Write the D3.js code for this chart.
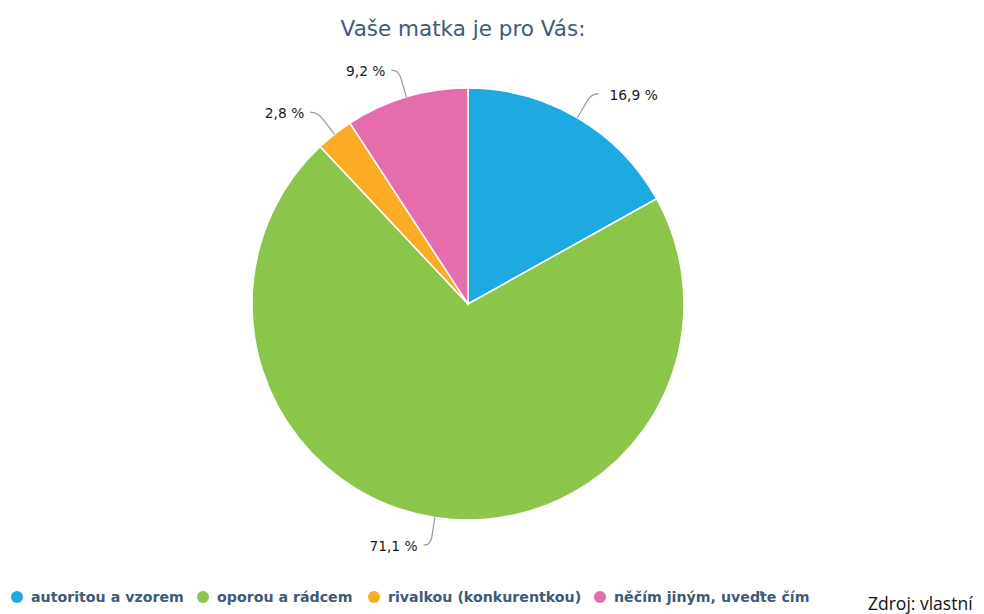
<!DOCTYPE html>
<html>
<head>
<meta charset="utf-8">
<script src="https://cdn.jsdelivr.net/npm/d3@7"></script>
<style>
  body { margin: 0; background: #fff; }
  svg { display: block; }
</style>
</head>
<body>
<svg id="chart" width="984" height="614"></svg>
<script>
// data
var categories = ["autoritou a vzorem", "oporou a rádcem", "rivalkou (konkurentkou)", "něčím jiným, uveďte čím"];
var shares = [16.9, 71.1, 2.8, 9.2];
var labels = ["16,9 %", "71,1 %", "2,8 %", "9,2 %"];
var colors = ["#1fa9e1", "#8bc54a", "#fbab26", "#e56dab"];

var svg = d3.select("#chart");

const CX = 468, CY = 304, R = 216;

// title
svg.append("text")
    .attr("x", 463)
    .attr("y", 36)
    .attr("text-anchor", "middle")
    .attr("font-family", "'DejaVu Sans', sans-serif")
    .attr("font-size", 21.5)
    .attr("fill", "#3e5a7a")
    .text("Vaše matka je pro Vás:");

var data = categories.map((c, i) => ({ name: c, value: shares[i], label: labels[i], color: colors[i] }));

var pie = d3.pie().sort(null).value(d => d.value);
var arc = d3.arc().innerRadius(0).outerRadius(R);

var g = svg.append("g").attr("transform", "translate(" + CX + "," + CY + ")");

var arcs = pie(data);

g.selectAll("path.slice")
    .data(arcs)
    .enter()
    .append("path")
    .attr("class", "slice")
    .attr("d", arc)
    .attr("fill", d => d.data.color)
    .attr("stroke", "#fff")
    .attr("stroke-width", 1.5);

// connectors and labels
arcs.forEach(d => {
    var a = (d.startAngle + d.endAngle) / 2;
    var sx = Math.sin(a), sy = -Math.cos(a);
    var right = sx > 0;
    var p0 = [R * sx, R * sy];
    var p1 = [(R + 28) * sx, (R + 28) * sy];
    var pm = [(R + 20) * sx, (R + 20) * sy];
    var p2 = [p1[0] + (right ? 7 : -7), p1[1]];

    g.append("path")
        .attr("d", "M" + p0 + "L" + pm + "Q" + p1 + " " + p2)
        .attr("fill", "none")
        .attr("stroke", "#999")
        .attr("stroke-width", 1.2);

    g.append("text")
        .attr("x", p2[0] + (right ? 11 : -6))
        .attr("y", p2[1] + 6)
        .attr("text-anchor", right ? "start" : "end")
        .attr("font-family", "'DejaVu Sans', sans-serif")
        .attr("font-size", 13.8)
        .attr("fill", "#1a1a1a")
        .text(d.data.label);
});

// legend
var legendX = [17, 203, 374, 600];
var legend = svg.append("g");
data.forEach((d, i) => {
    legend.append("circle")
        .attr("cx", legendX[i])
        .attr("cy", 597)
        .attr("r", 6)
        .attr("fill", d.color);
    legend.append("text")
        .attr("x", legendX[i] + 14)
        .attr("y", 602)
        .attr("font-family", "'DejaVu Sans', sans-serif")
        .attr("font-size", 14.2)
        .attr("font-weight", "bold")
        .attr("fill", "#3e5a78")
        .text(d.name);
});

// source note
svg.append("text")
    .attr("x", 868)
    .attr("y", 610)
    .attr("font-family", "'Open Sans', sans-serif")
    .attr("font-size", 17.5)
    .attr("fill", "#111")
    .text("Zdroj: vlastní");
</script>
</body>
</html>
